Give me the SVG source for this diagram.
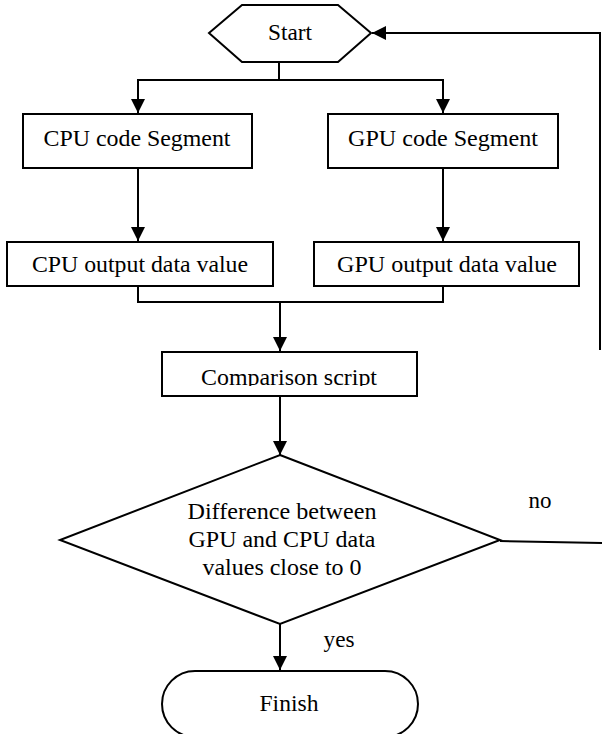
<svg xmlns="http://www.w3.org/2000/svg" width="602" height="734" viewBox="0 0 602 734">
<defs>
<marker id="ah" markerUnits="userSpaceOnUse" markerWidth="16" markerHeight="16" viewBox="0 0 16 16" refX="15" refY="8" orient="auto">
<polygon points="1,1 15,8 1,15" fill="#000"/>
</marker>
<clipPath id="cmpclip"><rect x="160" y="350" width="260" height="36"/></clipPath>
</defs>
<style>
.shape{fill:#fff;stroke:#000;stroke-width:2}
.line{fill:none;stroke:#000;stroke-width:2}
.t{font-family:'Liberation Serif',serif;font-size:24px;fill:#000;text-anchor:middle}
</style>
<rect width="602" height="734" fill="#fff"/>
<g id="connectors">
<polyline class="line" points="279,62 279,80 138,80 138,113" marker-end="url(#ah)"/>
<polyline class="line" points="279,80 443,80 443,113" marker-end="url(#ah)"/>
<line class="line" x1="138" y1="168" x2="138" y2="241" marker-end="url(#ah)"/>
<line class="line" x1="443" y1="168" x2="443" y2="241" marker-end="url(#ah)"/>
<polyline class="line" points="138,286 138,302 443,302 443,286"/>
<line class="line" x1="280" y1="302" x2="280" y2="351" marker-end="url(#ah)"/>
<line class="line" x1="280" y1="396" x2="280" y2="455" marker-end="url(#ah)"/>
<line class="line" x1="280" y1="624" x2="280" y2="670" marker-end="url(#ah)"/>
<polyline class="line" points="600,350 600,33 372,33" marker-end="url(#ah)"/>
<line class="line" x1="500" y1="541" x2="602" y2="543"/>
<text class="t" x="540" y="508" textLength="23" lengthAdjust="spacingAndGlyphs">no</text>
<text class="t" x="339" y="647" textLength="31" lengthAdjust="spacingAndGlyphs">yes</text>
</g>
<g id="start">
<polygon class="shape" points="209,33 242,5 338,5 371,33 338,62 242,62"/>
<text class="t" x="290" y="40" textLength="44" lengthAdjust="spacingAndGlyphs">Start</text>
</g>
<g id="cpu-code">
<rect class="shape" x="23" y="114" width="229" height="54"/>
<text class="t" x="137" y="146" textLength="187" lengthAdjust="spacingAndGlyphs">CPU code Segment</text>
</g>
<g id="gpu-code">
<rect class="shape" x="328" y="114" width="230" height="54"/>
<text class="t" x="443" y="146" textLength="190" lengthAdjust="spacingAndGlyphs">GPU code Segment</text>
</g>
<g id="cpu-output">
<rect class="shape" x="7" y="242" width="266" height="44"/>
<text class="t" x="140" y="272" textLength="216" lengthAdjust="spacingAndGlyphs">CPU output data value</text>
</g>
<g id="gpu-output">
<rect class="shape" x="314" y="242" width="265" height="44"/>
<text class="t" x="447" y="272" textLength="220" lengthAdjust="spacingAndGlyphs">GPU output data value</text>
</g>
<g id="comparison">
<rect class="shape" x="162" y="352" width="255" height="44"/>
<text class="t" x="289" y="385" textLength="176" lengthAdjust="spacingAndGlyphs" clip-path="url(#cmpclip)">Comparison script</text>
</g>
<g id="decision">
<polygon class="shape" points="280,455 500,540 280,624 60,540"/>
<text class="t" x="282" y="519" textLength="189" lengthAdjust="spacingAndGlyphs">Difference between</text>
<text class="t" x="282" y="547" textLength="187" lengthAdjust="spacingAndGlyphs">GPU and CPU data</text>
<text class="t" x="282" y="575" textLength="159" lengthAdjust="spacingAndGlyphs">values close to 0</text>
</g>
<g id="finish">
<rect class="shape" x="162" y="671" width="256" height="66" rx="33" ry="33"/>
<text class="t" x="289" y="711" textLength="59" lengthAdjust="spacingAndGlyphs">Finish</text>
</g>
</svg>
